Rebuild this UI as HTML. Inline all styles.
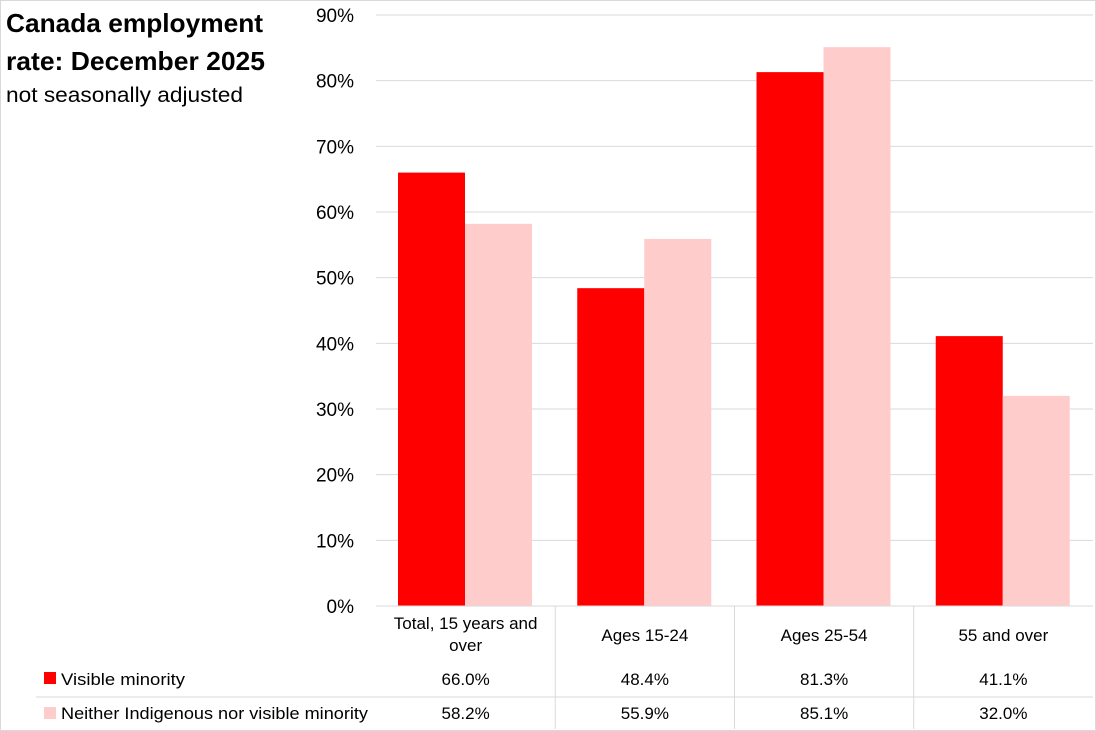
<!DOCTYPE html>
<html><head><meta charset="utf-8"><style>
html,body{margin:0;padding:0;background:#fff}
svg{display:block;font-family:"Liberation Sans",sans-serif}
</style></head><body>
<svg id="c" width="1096" height="731">
<rect x="0.5" y="0.5" width="1095" height="730" fill="#fff" stroke="#d9d9d9"/>
<text x="6" y="32" font-size="26" font-weight="bold" fill="#000" textLength="257" lengthAdjust="spacingAndGlyphs">Canada employment</text>
<text x="6" y="70" font-size="26" font-weight="bold" fill="#000" textLength="259" lengthAdjust="spacingAndGlyphs">rate: December 2025</text>
<text x="6" y="102" font-size="21" fill="#000" textLength="237" lengthAdjust="spacingAndGlyphs">not seasonally adjusted</text>
<g id="grid"></g><g id="bars"></g><g id="table"></g>
</svg>
<script>
const categories=["Total, 15 years and over","Ages 15-24","Ages 25-54","55 and over"];
const catLines=[["Total, 15 years and","over"],["Ages 15-24"],["Ages 25-54"],["55 and over"]];
const visible=[66.0,48.4,81.3,41.1];
const neither=[58.2,55.9,85.1,32.0];
const ticks=[0,10,20,30,40,50,60,70,80,90];
const NS="http://www.w3.org/2000/svg";
const X0=376,X1=1093,Y0=606,Y90=15;
const y=v=>Y0-(v/90)*(Y0-Y90);
const cw=(X1-X0)/categories.length;
const cx=i=>X0+i*cw;
function mk(t,a,p){const e=document.createElementNS(NS,t);for(const k in a)e.setAttribute(k,a[k]);p.appendChild(e);return e;}
const g=document.getElementById('grid'),b=document.getElementById('bars'),tb=document.getElementById('table');
ticks.forEach(t=>{
 if(t>0){const l=mk('line',{x1:X0,x2:X1,y1:y(t),y2:y(t),stroke:'#d9d9d9','stroke-width':1},g);
 
 }
 const tx=mk('text',{x:354,y:y(t)+7,'font-size':19,'text-anchor':'end',fill:'#000'},g);
 tx.textContent=t+'%';
 
 
});
const bw=67,pad=22;
categories.forEach((c,i)=>{
 const r1=mk('rect',{x:cx(i)+pad,y:y(visible[i]),width:bw,height:Y0-y(visible[i]),fill:'#ff0000'},b);
 
 
 const r2=mk('rect',{x:cx(i)+pad+bw,y:y(neither[i]),width:bw,height:Y0-y(neither[i]),fill:'#ffcccc'},b);
 
 
 const lines=catLines[i];
 lines.forEach((ln,k)=>{
  const t=mk('text',{x:cx(i)+cw/2,y:(lines.length>1?629+k*22:641),'font-size':17,'text-anchor':'middle',fill:'#000'},tb);
  t.textContent=ln;
  
  
 });
 const v1=mk('text',{x:cx(i)+cw/2,y:685,'font-size':17,'text-anchor':'middle',fill:'#000'},tb);
 v1.textContent=visible[i].toFixed(1)+'%';
 
 
 const v2=mk('text',{x:cx(i)+cw/2,y:719,'font-size':17,'text-anchor':'middle',fill:'#000'},tb);
 v2.textContent=neither[i].toFixed(1)+'%';
 
 
 if(i>0){const l=mk('line',{x1:cx(i),x2:cx(i),y1:Y0,y2:729,stroke:'#d9d9d9'},tb);
 
 }
});
const ax=mk('line',{x1:X0,x2:X1,y1:Y0,y2:Y0,stroke:'#d9d9d9'},tb);


const hl=mk('line',{x1:36,x2:X1,y1:697,y2:697,stroke:'#d9d9d9'},tb);


const s1=mk('rect',{x:44,y:672,width:12,height:12,fill:'#ff0000'},tb);


const l1=mk('text',{x:61,y:685,'font-size':17,fill:'#000',textLength:124,lengthAdjust:'spacingAndGlyphs'},tb);
l1.textContent='Visible minority';


const s2=mk('rect',{x:44,y:707,width:12,height:12,fill:'#ffcccc'},tb);


const l2=mk('text',{x:61,y:719,'font-size':17,fill:'#000',textLength:307,lengthAdjust:'spacingAndGlyphs'},tb);
l2.textContent='Neither Indigenous nor visible minority';


</script>
</body></html>
